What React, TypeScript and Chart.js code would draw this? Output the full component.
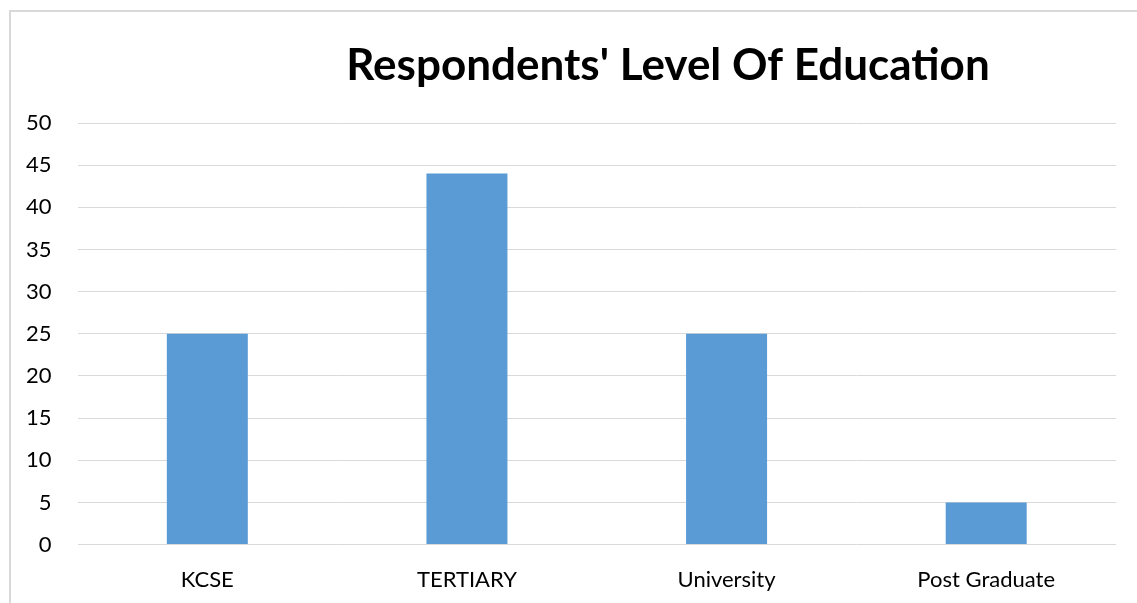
import React, { useEffect, useRef } from "react";
import { Chart, registerables } from "chart.js";

Chart.register(...registerables);

const categories = ["KCSE", "TERTIARY", "University", "Post Graduate"];
const respondents = [25, 44, 25, 5];
const yTicks = { min: 0, max: 50, step: 5 };
const titleText = "Respondents' Level Of Education";

const titlePlugin = {
  id: "offsetTitle",
  afterDraw(chart: any) {
    const ctx = chart.ctx;
    ctx.save();
    ctx.fillStyle = "#000";
    ctx.font = "bold 44px Lato";
    ctx.textAlign = "center";
    ctx.textBaseline = "alphabetic";
    ctx.fillText(titleText, 668, 80);
    ctx.restore();
  },
};

export default function App() {
  const ref = useRef<HTMLCanvasElement | null>(null);

  useEffect(() => {
    if (!ref.current) return;
    const chart = new Chart(ref.current, {
      type: "bar",
      data: {
        labels: categories,
        datasets: [
          {
            label: "Respondents",
            data: respondents,
            backgroundColor: "#5B9BD5",
            borderWidth: 0,
            barPercentage: 0.312,
            categoryPercentage: 1,
          },
        ],
      },
      options: {
        animation: false,
        responsive: false,
        maintainAspectRatio: false,
        layout: { padding: { left: 0, right: 21, top: 123, bottom: -12 } },
        plugins: {
          legend: { display: false },
          tooltip: { enabled: false },
          title: { display: false },
        },
        scales: {
          x: {
            grid: { display: false, drawTicks: false },
            border: { display: false },
            ticks: {
              color: "#000",
              font: { family: "Lato", size: 22 },
              padding: 22,
            },
          },
          y: {
            min: yTicks.min,
            max: yTicks.max,
            grid: { color: "#d9d9d9", lineWidth: 1, drawTicks: false },
            border: { display: false },
            ticks: {
              stepSize: yTicks.step,
              color: "#000",
              font: { family: "Lato", size: 22 },
              padding: 26,
            },
          },
        },
      },
      plugins: [titlePlugin],
    });
    return () => chart.destroy();
  }, []);

  return (
    <div
      style={{
        position: "fixed",
        left: 0,
        top: 0,
        width: 1137,
        height: 603,
        overflow: "hidden",
        background: "#fff",
      }}
    >
      <div
        style={{
          position: "absolute",
          left: 9,
          top: 10,
          width: 2000,
          height: 2000,
          borderLeft: "2px solid #d9d9d9",
          borderTop: "2px solid #d9d9d9",
        }}
      />
      <canvas
        ref={ref}
        width={1137}
        height={603}
        style={{ position: "absolute", left: 0, top: 0, width: 1137, height: 603 }}
      />
    </div>
  );
}
